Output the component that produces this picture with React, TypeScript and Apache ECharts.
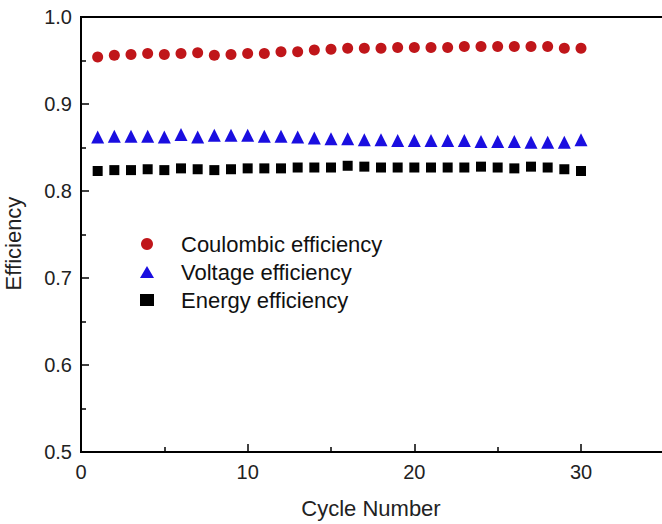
import React, { useEffect, useRef } from "react";
import * as echarts from "echarts";

const cycles = [1,2,3,4,5,6,7,8,9,10,11,12,13,14,15,16,17,18,19,20,21,22,23,24,25,26,27,28,29,30];
const coulombic = [0.954,0.956,0.957,0.958,0.957,0.958,0.959,0.956,0.957,0.958,0.958,0.960,0.960,0.962,0.963,0.964,0.964,0.964,0.965,0.965,0.965,0.965,0.966,0.966,0.966,0.966,0.966,0.966,0.964,0.964];
const voltage = [0.862,0.863,0.863,0.863,0.862,0.865,0.862,0.864,0.864,0.864,0.863,0.863,0.862,0.861,0.860,0.860,0.859,0.859,0.858,0.858,0.858,0.858,0.858,0.857,0.857,0.857,0.856,0.856,0.856,0.859];
const energy = [0.823,0.824,0.824,0.825,0.824,0.826,0.825,0.824,0.825,0.826,0.826,0.826,0.827,0.827,0.827,0.829,0.828,0.827,0.827,0.827,0.827,0.827,0.827,0.828,0.827,0.826,0.828,0.827,0.825,0.823];
const seriesNames = ["Coulombic efficiency", "Voltage efficiency", "Energy efficiency"];
const yTicks = [0.5, 0.6, 0.7, 0.8, 0.9, 1.0];
const xTicks = [0, 10, 20, 30];

const pair = (ys: number[]) => cycles.map((c, i) => [c, ys[i]]);

export default function App() {
  const ref = useRef<HTMLDivElement>(null);
  useEffect(() => {
    if (!ref.current) return;
    const chart = echarts.init(ref.current, null, { renderer: "svg" });
    const font = "'Liberation Sans', Arial, sans-serif";
    chart.setOption({
      animation: false,
      backgroundColor: "#fff",
      grid: {
        left: 81, top: 17, width: 600, height: 435,
        show: true, borderColor: "#000", borderWidth: 2,
        containLabel: false, outerBoundsMode: "none",
      },
      legend: {
        orient: "vertical", left: 135, top: 228, itemGap: 6,
        itemWidth: 14, itemHeight: 12,
        textStyle: { fontFamily: font, fontSize: 22, lineHeight: 22, color: "#111", padding: [0, 0, 0, 22] },
        data: [
          { name: seriesNames[0], icon: "circle" },
          { name: seriesNames[1], icon: "triangle" },
          { name: seriesNames[2], icon: "rect" },
        ],
      },
      xAxis: {
        type: "value", min: 0, max: 36, interval: 10,
        name: "Cycle Number", nameLocation: "middle", nameGap: 45,
        nameTextStyle: { fontFamily: font, fontSize: 22, color: "#222", padding: [0, 20, 0, 0] },
        axisLine: { show: true, lineStyle: { color: "#000", width: 2 } },
        axisTick: { show: true, inside: true, length: 8, lineStyle: { color: "#000", width: 1.5 } },
        minorTick: { show: true, splitNumber: 2, length: 5, lineStyle: { color: "#000", width: 1.5 } },
        axisLabel: {
          fontFamily: font, fontSize: 20, color: "#222", margin: 10, showMaxLabel: false,
          formatter: (v: number) => (xTicks.includes(v) ? String(v) : ""),
        },
        splitLine: { show: false },
      },
      yAxis: {
        type: "value", min: 0.5, max: 1.0, interval: 0.1,
        name: "Efficiency", nameLocation: "middle", nameGap: 57, nameRotate: 90,
        nameTextStyle: { fontFamily: font, fontSize: 22, color: "#222", padding: [0, 18, 0, 0] },
        axisLine: { show: true, lineStyle: { color: "#000", width: 2 } },
        axisTick: { show: true, inside: true, length: 8, lineStyle: { color: "#000", width: 1.5 } },
        minorTick: { show: true, splitNumber: 2, length: 5, lineStyle: { color: "#000", width: 1.5 } },
        axisLabel: {
          fontFamily: font, fontSize: 20, color: "#222", margin: 9,
          formatter: (v: number) => {
            const t = yTicks.find((y) => Math.abs(y - v) < 1e-6);
            return t !== undefined ? t.toFixed(1) : "";
          },
        },
        splitLine: { show: false },
      },
      series: [
        { name: seriesNames[0], type: "scatter", symbol: "circle", symbolSize: 11, itemStyle: { color: "#c0161a", opacity: 1 }, data: pair(coulombic) },
        { name: seriesNames[1], type: "scatter", symbol: "triangle", symbolSize: 13, itemStyle: { color: "#1a0ee0", opacity: 1 }, data: pair(voltage) },
        { name: seriesNames[2], type: "scatter", symbol: "rect", symbolSize: 10, itemStyle: { color: "#000", opacity: 1 }, data: pair(energy) },
      ],
    });
    return () => chart.dispose();
  }, []);
  return (
    <div
      ref={ref}
      style={{ position: "absolute", left: 0, top: 0, width: 662, height: 524 }}
    />
  );
}
